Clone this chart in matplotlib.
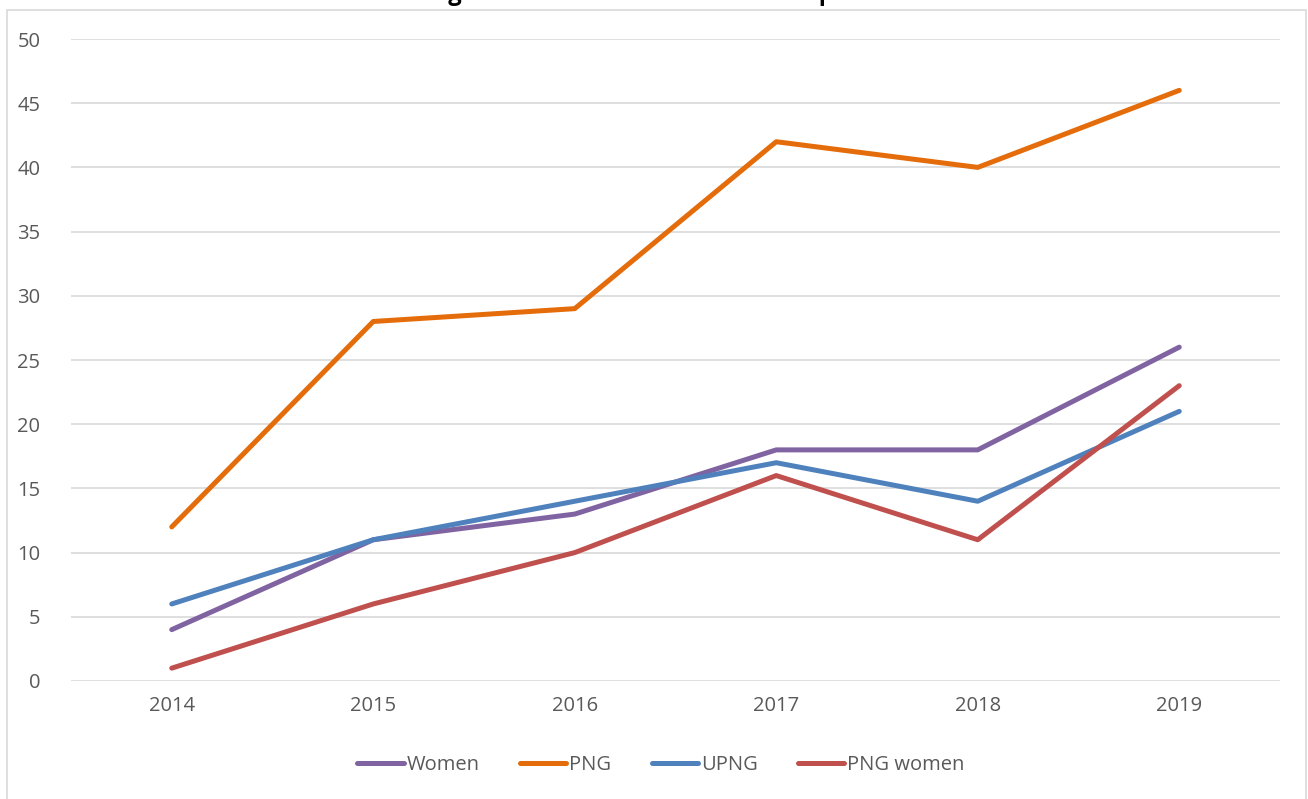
import matplotlib
matplotlib.use("Agg")
import matplotlib.pyplot as plt
from matplotlib.patches import Rectangle

years = ["2014", "2015", "2016", "2017", "2018", "2019"]
women = [4, 11, 13, 18, 18, 26]
png = [12, 28, 29, 42, 40, 46]
upng = [6, 11, 14, 17, 14, 21]
png_women = [1, 6, 10, 16, 11, 23]

series_names = ["Women", "PNG", "UPNG", "PNG women"]
series_colors = ["#8064A2", "#E46C0A", "#4F81BD", "#C0504D"]

plt.rcParams["font.family"] = ["Open Sans", "DejaVu Sans"]
W, H = 1308, 799
fig = plt.figure(figsize=(W / 100, H / 100), dpi=100)

# chart frame (runs off the bottom edge like the cropped source)
fig.patches.append(Rectangle((7 / W, -0.05), (1306 - 7) / W, 1 - 10 / H + 0.05,
                             transform=fig.transFigure, fill=False,
                             edgecolor="#d9d9d9", linewidth=1.2, clip_on=False))

ax = fig.add_axes([71 / W, 1 - 681 / H, (1280 - 71) / W, (681 - 39) / H])
x = list(range(len(years)))
for vals, name, col in zip([women, png, upng, png_women], series_names, series_colors):
    ax.plot(x, vals, color=col, linewidth=3.6, label=name, solid_capstyle="round")

ax.set_xlim(-0.5, len(years) - 0.5)
ax.set_ylim(0, 50)
ax.set_yticks(range(0, 51, 5))
ax.set_xticks(x)
ax.set_xticklabels(years)
ax.grid(axis="y", color="#d9d9d9", linewidth=1.2)
ax.set_axisbelow(True)
for s in ax.spines.values():
    s.set_visible(False)
ax.tick_params(length=0, colors="#595959", labelsize=14.5)
ax.tick_params(axis="y", pad=22)
ax.tick_params(axis="x", pad=11)

# title sits mostly above the visible area in the source crop
fig.text(658 / W, 1 - 6 / H, "Figure 1: Presenters at the PNG Update",
         ha="center", va="bottom", fontsize=17, fontweight="bold", color="black")

fig.legend(loc="center", bbox_to_anchor=(661 / W, 1 - 765 / H), ncol=4,
           frameon=False, fontsize=14.5, handlelength=2.3, handletextpad=0.15,
           columnspacing=2.0, labelcolor="#595959")

fig.savefig("out.png", dpi=100)
